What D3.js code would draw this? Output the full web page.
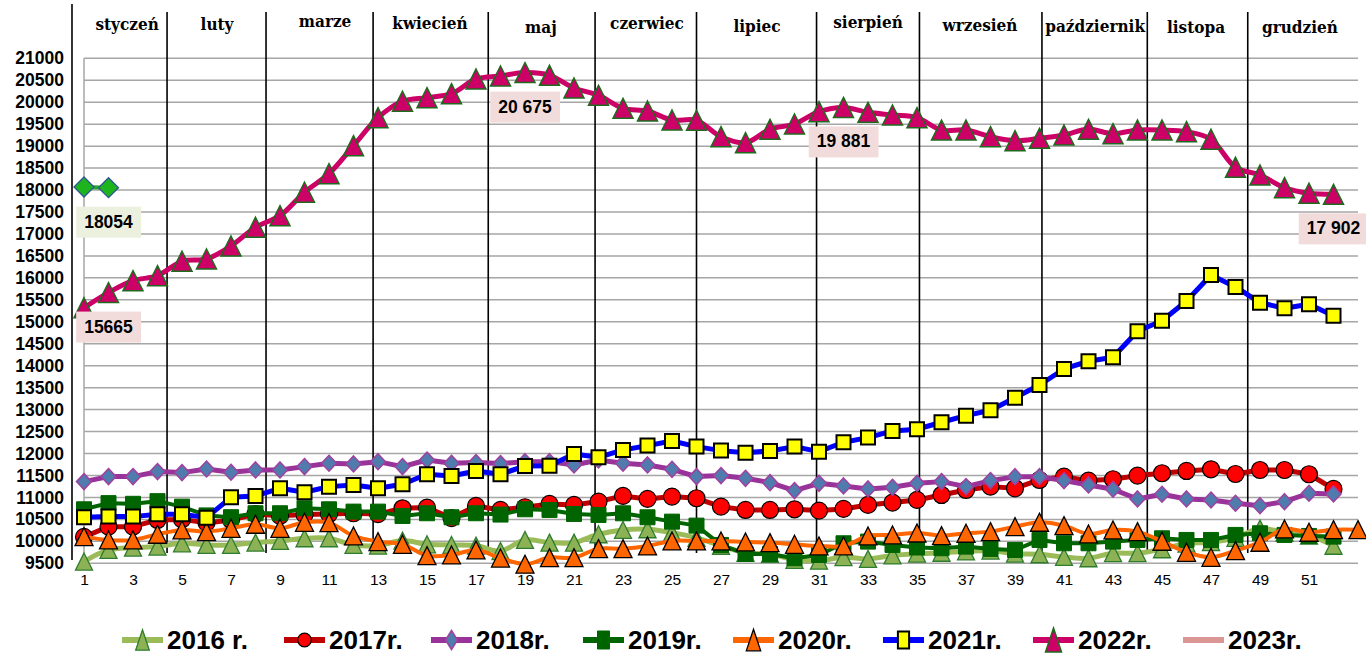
<!DOCTYPE html>
<html><head><meta charset="utf-8">
<script src="https://cdn.jsdelivr.net/npm/d3@7"></script>
<style>body{margin:0;background:#fff;overflow:hidden} svg{display:block}</style>
</head><body><svg id="c" width="1366" height="655"></svg>
<script>
// ---------- data ----------
const yTicks = d3.range(9500, 21001, 500);
const xTickLabels = d3.range(1, 52, 2);
const months = ["styczeń","luty","marze","kwiecień","maj","czerwiec","lipiec","sierpień","wrzesień","październik","listopa","grudzień"];
const monthLabelWeeks = [2.76, 6.43, 10.84, 15.12, 19.65, 23.98, 28.47, 33.0, 37.57, 42.27, 46.39, 50.63];
const monthBoundaryWeeks = [0.51, 4.39, 8.43, 12.8, 17.5, 21.86, 26.0, 30.9, 35.1, 40.1, 44.4, 48.5];
const seriesNames = ["2016 r.","2017r.","2018r.","2019r.","2020r.","2021r.","2022r.","2023r."];

const s2016 = [9540,9804,9857,9880,9956,9918,9918,9971,10009,10070,10070,9918,9903,10017,9933,9918,9903,9780,10032,9971,9971,10161,10260,10275,10199,10080,9900,9740,9713,9580,9560,9640,9600,9680,9720,9740,9770,9790,9720,9706,9645,9615,9730,9730,9820,9950,9980,10080,10290,10200,10130,9900];
const s2017 = [10100,10335,10335,10487,10500,10420,10487,10620,10580,10610,10620,10640,10620,10753,10768,10530,10806,10715,10776,10852,10829,10905,11034,10966,11019,10981,10791,10715,10715,10730,10700,10738,10829,10882,10943,11056,11170,11246,11208,11398,11473,11383,11414,11497,11551,11603,11641,11534,11625,11625,11528,11193];
const s2018 = [11360,11474,11474,11588,11565,11648,11573,11626,11626,11702,11778,11762,11815,11702,11853,11778,11793,11770,11815,11815,11740,11853,11778,11740,11641,11474,11497,11436,11337,11155,11322,11261,11193,11231,11322,11360,11246,11383,11473,11473,11383,11284,11186,10965,11072,10965,10942,10867,10813,10904,11095,11079];
const s2019 = [10730,10870,10855,10915,10790,10590,10550,10640,10640,10753,10730,10677,10677,10578,10640,10548,10640,10610,10730,10715,10624,10601,10639,10548,10449,10358,9918,9713,9713,9614,9690,9956,9994,9918,9860,9843,9880,9827,9804,10032,9956,9956,9994,10032,10070,10032,10032,10146,10184,10146,10123,10108];
const s2020 = [10108,10032,10032,10161,10260,10222,10297,10389,10297,10434,10426,10123,9994,9933,9675,9690,9804,9620,9480,9630,9630,9834,9834,9895,10009,10009,10009,9986,9971,9933,9895,9895,10123,10146,10190,10130,10184,10221,10335,10435,10358,10168,10259,10221,10002,9751,9637,9788,9979,10282,10207,10266,10266];
const s2021 = [10548,10563,10563,10616,10616,10540,11003,11034,11208,11117,11246,11284,11208,11299,11527,11489,11603,11527,11717,11724,11990,11914,12081,12180,12286,12157,12066,12020,12058,12157,12043,12256,12362,12514,12552,12712,12862,12985,13272,13561,13925,14101,14192,14785,15025,15474,16066,15793,15435,15308,15399,15139];
const s2022 = [15320,15665,15936,16050,16378,16430,16726,17152,17416,17949,18372,19010,19648,20021,20103,20194,20529,20597,20675,20613,20324,20157,19861,19800,19595,19588,19215,19078,19383,19504,19784,19881,19770,19709,19648,19365,19367,19215,19124,19178,19254,19383,19283,19367,19367,19329,19156,18518,18343,18054,17926,17902];
const s2023 = [18070,18054];

const dataLabels = [
  {series: 7, week: 2, text: "18054", fill: "#EBF1DE"},
  {series: 6, week: 2, text: "15665", fill: "#F2DCDB"},
  {series: 6, week: 19, text: "20 675", fill: "#F2DCDB"},
  {series: 6, week: 32, text: "19 881", fill: "#F2DCDB"},
  {series: 6, week: 52, text: "17 902", fill: "#F2DCDB"}
];

// ---------- styles ----------
const styles = [
  {data: s2016, line: "#9BBB59", lw: 5, curve: true,  shape: "tri", w: 17, h: 17, fill: "#8DB255", stroke: "#2E7D2E", sw: 1.3},
  {data: s2017, line: "#C00000", lw: 5, curve: false, shape: "circle", w: 17, h: 17, fill: "#FF0000", stroke: "#000", sw: 1.2},
  {data: s2018, line: "#993399", lw: 5, curve: false, shape: "diamond", w: 15, h: 16, fill: "#4F7CAC", stroke: "#A040A0", sw: 1.5},
  {data: s2019, line: "#006400", lw: 4, curve: false, shape: "square", w: 15, h: 15, fill: "#006400", stroke: "#006400", sw: 1},
  {data: s2020, line: "#FF6600", lw: 4, curve: true,  shape: "tri", w: 18, h: 18, fill: "#FF6600", stroke: "#000", sw: 1.3},
  {data: s2021, line: "#0000FF", lw: 5, curve: false, shape: "square", w: 14, h: 14, fill: "#FFFF00", stroke: "#000", sw: 2},
  {data: s2022, line: "#CC0066", lw: 5, curve: true,  shape: "tri", w: 20, h: 20, fill: "#CC0066", stroke: "#1E6B1E", sw: 1.5},
  {data: s2023, line: "#22AA22", lw: 4, curve: false, shape: "diamond", w: 20, h: 20, fill: "#1EB41E", stroke: "#2F5597", sw: 1.3, legendLine: "#D99694", noLegendMarker: true}
];

// ---------- chart ----------
const svg = d3.select("#c");
const x = d3.scaleLinear().domain([1, 53]).range([84, 1358]);
const y = d3.scaleLinear().domain([9500, 21000]).range([563.3, 58.3]);

// gridlines
const grid = svg.append("g");
grid.selectAll("line").data(yTicks).join("line")
  .attr("x1", x(1)).attr("x2", x(53))
  .attr("y1", d => y(d)).attr("y2", d => y(d))
  .attr("stroke", "#A6A6A6").attr("stroke-width", 1.5);
grid.append("line").attr("x1", x(1)).attr("x2", x(1)).attr("y1", y(21000)).attr("y2", y(9500))
  .attr("stroke", "#A6A6A6").attr("stroke-width", 1.5);

// y axis labels
const yAxis = d3.axisLeft(y).tickValues(yTicks).tickSize(0).tickPadding(0).tickFormat(d3.format("d"));
const ya = svg.append("g").attr("transform", "translate(64,0)").call(yAxis);
ya.select(".domain").remove();
ya.selectAll("text").attr("font-family", "'Liberation Sans', Arial, sans-serif")
  .attr("font-weight", "bold").attr("font-size", 17.5).attr("fill", "#000");

// x axis labels
const xAxis = d3.axisBottom(x).tickValues(xTickLabels).tickSize(0).tickPadding(0).tickFormat(d3.format("d"));
const xa = svg.append("g").attr("transform", "translate(0,574)").call(xAxis);
xa.select(".domain").remove();
xa.selectAll("text").attr("font-family", "'Liberation Sans', Arial, sans-serif")
  .attr("font-size", 15.5).attr("fill", "#000");

// month separators
const sep = svg.append("g");
sep.selectAll("line").data(monthBoundaryWeeks).join("line")
  .attr("x1", d => x(d)).attr("x2", d => x(d))
  .attr("y1", (d, i) => i === 0 ? 4 : 12).attr("y2", (d, i) => i === 0 ? 560 : 553)
  .attr("stroke", "#000").attr("stroke-width", 1.6);
const monthDy = [0, 0, -3, -1, 3, -1, 2, -2, 1, 2, 3, 3];
svg.append("g").selectAll("text").data(months).join("text")
  .attr("x", (d, i) => x(monthLabelWeeks[i]))
  .attr("y", (d, i) => 30 + monthDy[i])
  .attr("text-anchor", "middle")
  .attr("font-family", "'DejaVu Serif Condensed', 'DejaVu Serif', serif")
  .attr("font-stretch", "condensed")
  .attr("font-weight", "bold").attr("font-size", 17).attr("fill", "#000")
  .text(d => d);

function shapePath(shape, w, h) {
  if (shape === "tri") return `M0,${-h/2}L${w/2},${h/2}L${-w/2},${h/2}Z`;
  if (shape === "diamond") return `M0,${-h/2}L${w/2},0L0,${h/2}L${-w/2},0Z`;
  if (shape === "square") return `M${-w/2},${-h/2}h${w}v${h}h${-w}Z`;
  return d3.arc()({innerRadius: 0, outerRadius: w/2, startAngle: 0, endAngle: 2*Math.PI});
}

// series
const plot = svg.append("g");
styles.forEach((s, si) => {
  const g = plot.append("g");
  const pts = s.data.map((v, i) => [i + 1, v]);
  const line = d3.line().x(d => x(d[0])).y(d => y(d[1]))
    .curve(s.curve ? d3.curveCatmullRom.alpha(0.5) : d3.curveLinear);
  g.append("path").attr("d", line(pts)).attr("fill", "none")
    .attr("stroke", s.line).attr("stroke-width", s.lw)
    .attr("stroke-linejoin", "round").attr("stroke-linecap", "round");
  g.selectAll("path.m").data(pts).join("path").attr("class", "m")
    .attr("transform", d => `translate(${x(d[0])},${y(d[1])})`)
    .attr("d", shapePath(s.shape, s.w, s.h))
    .attr("fill", s.fill).attr("stroke", s.stroke).attr("stroke-width", s.sw);
});

// data labels
const lab = svg.append("g");
dataLabels.forEach(l => {
  const v = styles[l.series].data[l.week - 1];
  const cx = x(l.week), cy = y(v) + 34;
  const g = lab.append("g");
  const t = g.append("text").attr("x", cx).attr("y", cy).attr("text-anchor", "middle")
    .attr("dominant-baseline", "central")
    .attr("font-family", "'Liberation Sans', Arial, sans-serif")
    .attr("font-weight", "bold").attr("font-size", 17.5).attr("fill", "#000").text(l.text);
  const bb = t.node().getBBox();
  g.insert("rect", "text").attr("x", bb.x - 8).attr("y", cy - 15).attr("width", bb.width + 16).attr("height", 31)
    .attr("fill", l.fill);
});

// legend
const legendX = [122, 284, 431, 583, 733, 883, 1033, 1183];
const leg = svg.append("g");
styles.forEach((s, i) => {
  const g = leg.append("g").attr("transform", `translate(${legendX[i]},640)`);
  g.append("line").attr("x1", 0).attr("x2", 41).attr("y1", 0).attr("y2", 0)
    .attr("stroke", s.legendLine || s.line).attr("stroke-width", 6);
  if (!s.noLegendMarker) {
    g.append("path").attr("transform", "translate(20.5,0)")
      .attr("d", shapePath(s.shape, s.w * 0.8, s.h * 1.2))
      .attr("fill", s.fill).attr("stroke", s.stroke).attr("stroke-width", s.sw);
  }
  g.append("text").attr("x", 45).attr("y", 0).attr("dominant-baseline", "central")
    .attr("font-family", "'Liberation Sans', Arial, sans-serif")
    .attr("font-weight", "bold").attr("font-size", 26).attr("fill", "#000")
    .text(seriesNames[i]);
});
</script>
</body></html>
